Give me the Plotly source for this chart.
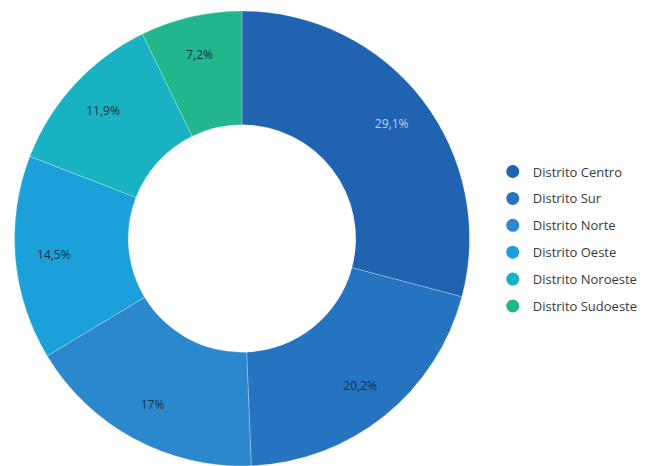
import plotly.graph_objects as go

categories = ["Distrito Centro", "Distrito Sur", "Distrito Norte", "Distrito Oeste", "Distrito Noroeste", "Distrito Sudoeste"]
values = [29.1, 20.2, 17.0, 14.5, 11.9, 7.2]
colors = ["#1f63b1", "#2673c0", "#2c88cc", "#1ba0da", "#19b2c3", "#21b68c"]
text_colors = ["#b9d4f2", "#17324f", "#17324f", "#17324f", "#17324f", "#17324f"]

labels_txt = [("%g" % v).replace(".", ",") + "%" for v in values]

W, H = 665, 466
R = 228
cx, top = 242, 11
dom_x = [(cx - R) / W, (cx + R) / W]
dom_y = [0, 1 - top / H]

fig = go.Figure()
fig.add_trace(go.Pie(
    labels=categories, values=values, sort=False, direction="clockwise", rotation=0,
    hole=0.5, marker=dict(colors=colors, line=dict(color="rgba(255,255,255,0.25)", width=1)),
    textinfo="none", showlegend=False, domain=dict(x=dom_x, y=dom_y), hoverinfo="label+percent",
))
fig.add_trace(go.Pie(
    labels=categories, values=values, sort=False, direction="clockwise", rotation=0,
    hole=0.66, marker=dict(colors=["rgba(0,0,0,0)"] * len(values), line=dict(width=0)),
    text=labels_txt, textinfo="text", textposition="inside", insidetextorientation="horizontal",
    insidetextfont=dict(family="Open Sans", size=12, color=text_colors),
    showlegend=False, domain=dict(x=dom_x, y=dom_y), hoverinfo="skip",
))
for i, (c, col) in enumerate(zip(categories, colors)):
    fig.add_trace(go.Scatter(
        x=[None], y=[None], mode="markers", name=c, legendgroup=c,
        marker=dict(symbol="circle", size=13, color=col),
    ))

fig.update_layout(
    width=W, height=H, margin=dict(l=0, r=0, t=0, b=0),
    paper_bgcolor="white", plot_bgcolor="white",
    xaxis=dict(visible=False), yaxis=dict(visible=False),
    legend=dict(x=0.741, y=0.487, xanchor="left", yanchor="middle",
                font=dict(family="Open Sans", size=13, color="#3a3a3a"),
                tracegroupgap=7, itemwidth=30),
    font=dict(family="Open Sans"),
)
fig.write_html("out.html")
